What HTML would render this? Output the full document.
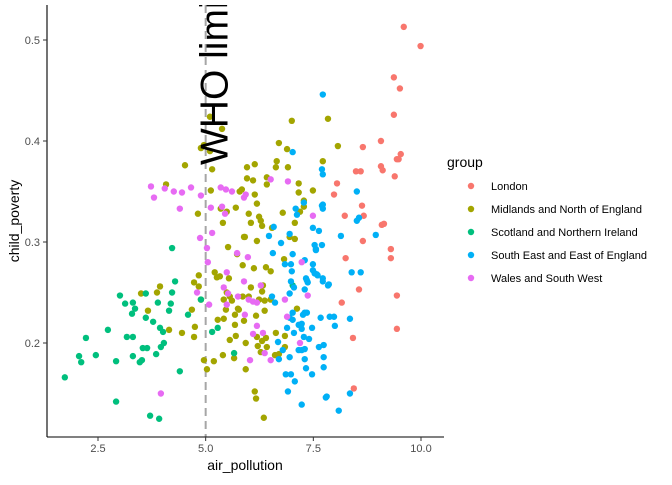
<!DOCTYPE html>
<html><head><meta charset="utf-8"><style>
html,body{margin:0;padding:0;background:#fff;}
svg text{font-family:"Liberation Sans",sans-serif;}
</style></head><body>
<svg id="chart" width="672" height="480" viewBox="0 0 672 480" xmlns="http://www.w3.org/2000/svg">
<defs><clipPath id="panelClip"><rect x="47" y="5" width="397" height="432"/></clipPath></defs>
<g id="points" clip-path="url(#panelClip)"></g>
<g id="axes"></g>
<g id="legend"></g>
</svg>
<script>
const xTicks = [2.5, 5.0, 7.5, 10.0];
const xTickLabels = ["2.5", "5.0", "7.5", "10.0"];
const yTicks = [0.2, 0.3, 0.4, 0.5];
const yTickLabels = ["0.2", "0.3", "0.4", "0.5"];
const groups = ["London", "Midlands and North of England", "Scotland and Northern Ireland", "South East and East of England", "Wales and South West"];
const groupColors = ["#F8766D", "#A3A500", "#00BF7D", "#00B0F6", "#E76BF3"];
const whoLimit = 5.0;

const londonX = [9.60,9.99,9.37,9.51,9.37,9.07,8.65,9.53,9.44,9.48,9.07,9.11,8.49,8.60,9.39,8.05,7.98,8.63,8.23,8.67,9.09,9.14,8.65,9.30,8.25,9.30,8.56,9.44,8.16,9.44,8.42,8.44];
const londonY = [0.513,0.494,0.463,0.452,0.426,0.400,0.394,0.387,0.382,0.382,0.375,0.371,0.370,0.370,0.365,0.358,0.347,0.336,0.326,0.326,0.317,0.318,0.301,0.293,0.284,0.284,0.253,0.247,0.240,0.214,0.205,0.155];

const midlandsX = [5.10,5.38,7.00,7.84,4.96,4.89,5.10,4.52,5.15,5.96,6.14,6.70,6.89,6.65,6.63,6.91,7.72,6.42,5.96,6.10,6.42,7.16,5.12,5.79,5.84,7.16,7.49,6.14,6.19,7.28,4.82,5.35,5.70,6.00,6.24,6.28,6.79,7.07,5.40,6.05,6.31,6.54,5.91,6.19,6.95,7.07,5.52,5.73,4.08,5.49,5.86,5.89,4.84,5.21,5.26,5.33,5.54,4.73,4.84,3.94,3.87,3.50,4.89,5.49,5.56,5.42,5.61,5.86,4.68,3.66,5.47,5.75,5.68,5.42,5.28,5.89,5.68,4.75,4.15,4.45,4.73,5.70,5.56,5.93,5.40,5.66,4.96,5.19,5.03,5.93,6.12,6.40,6.51,6.82,6.05,6.33,6.31,6.00,6.24,6.37,6.51,5.77,6.37,7.12,6.17,6.63,6.84,6.19,6.40,6.31,6.21,6.42,6.28,6.61,6.70,6.84,6.14,6.17,6.35,8.07,7.28,7.19];
const midlandsY = [0.424,0.412,0.420,0.422,0.396,0.393,0.390,0.376,0.372,0.374,0.377,0.398,0.392,0.380,0.374,0.374,0.380,0.364,0.363,0.361,0.357,0.358,0.351,0.350,0.352,0.349,0.351,0.347,0.338,0.335,0.328,0.333,0.334,0.328,0.325,0.321,0.329,0.319,0.319,0.319,0.316,0.314,0.305,0.301,0.305,0.303,0.295,0.288,0.357,0.330,0.277,0.305,0.267,0.270,0.265,0.266,0.264,0.260,0.256,0.256,0.250,0.249,0.243,0.250,0.246,0.243,0.242,0.246,0.233,0.232,0.233,0.234,0.228,0.224,0.223,0.222,0.218,0.216,0.213,0.210,0.206,0.207,0.203,0.200,0.188,0.185,0.183,0.182,0.174,0.174,0.274,0.275,0.271,0.283,0.255,0.257,0.251,0.246,0.243,0.242,0.243,0.233,0.232,0.234,0.227,0.210,0.207,0.206,0.205,0.202,0.197,0.196,0.191,0.188,0.189,0.196,0.152,0.145,0.126,0.395,0.341,0.330];

const scotlandX = [4.22,4.29,4.22,3.61,3.01,3.13,3.31,3.36,3.29,3.89,4.19,4.15,3.61,3.78,3.94,4.01,4.59,2.73,2.22,3.17,3.31,4.03,3.96,3.54,3.64,3.85,3.31,2.45,2.06,2.11,2.92,3.52,3.47,4.40,1.73,2.92,3.71,3.92,4.89,5.15,5.28,5.66,7.02];
const scotlandY = [0.294,0.261,0.250,0.249,0.247,0.239,0.240,0.234,0.229,0.240,0.239,0.232,0.225,0.221,0.215,0.211,0.228,0.213,0.205,0.206,0.206,0.200,0.196,0.195,0.195,0.189,0.187,0.188,0.187,0.181,0.182,0.183,0.181,0.172,0.166,0.142,0.128,0.125,0.243,0.211,0.215,0.190,0.257];

const southEastX = [7.72,7.70,7.72,8.51,7.28,7.72,7.72,8.51,8.56,7.49,7.63,8.14,8.95,7.53,7.70,7.56,7.30,7.49,7.49,7.53,7.60,7.72,7.72,7.86,8.39,8.60,7.33,7.37,7.30,7.30,7.35,7.67,7.88,7.98,8.35,8.00,7.47,7.23,7.23,7.28,7.40,7.74,7.63,7.30,7.23,7.74,7.30,7.33,7.74,7.47,7.79,8.35,8.09,7.23,6.56,7.02,6.84,6.98,7.00,7.56,7.58,7.84,6.98,7.05,7.35,6.95,6.54,6.61,7.02,6.95,7.02,7.26,7.16,6.89,7.05,6.68,6.79,6.95,6.70,7.16,6.86,6.98,7.07,6.91,7.81,7.02,7.09,7.12,7.70,6.47,6.58,6.75,6.95];
const southEastY = [0.446,0.372,0.367,0.350,0.339,0.337,0.333,0.321,0.324,0.314,0.311,0.306,0.307,0.297,0.297,0.293,0.282,0.278,0.272,0.269,0.267,0.264,0.261,0.258,0.270,0.270,0.264,0.260,0.253,0.230,0.230,0.225,0.226,0.226,0.224,0.217,0.215,0.214,0.219,0.206,0.204,0.198,0.196,0.194,0.193,0.186,0.184,0.175,0.176,0.169,0.146,0.150,0.133,0.139,0.289,0.288,0.278,0.278,0.271,0.292,0.268,0.257,0.261,0.255,0.262,0.249,0.246,0.240,0.230,0.225,0.223,0.228,0.218,0.215,0.210,0.201,0.193,0.186,0.184,0.193,0.169,0.169,0.162,0.152,0.147,0.389,0.333,0.327,0.336,0.306,0.315,0.299,0.308];

const walesX = [3.73,4.05,3.80,4.26,4.45,4.66,4.89,4.40,5.12,5.35,5.47,5.61,5.89,5.93,5.38,5.45,5.15,4.87,5.03,5.05,5.49,5.89,5.42,4.80,5.75,5.49,5.08,5.91,3.96,6.51,6.91,7.49,5.73,5.98,6.28,5.52,6.00,6.10,6.19,7.23,7.37,6.84,6.19,6.10,6.33,6.89,7.19,6.37,6.03,6.51];
const walesY = [0.355,0.353,0.344,0.350,0.349,0.354,0.346,0.333,0.334,0.354,0.352,0.350,0.344,0.347,0.335,0.328,0.309,0.304,0.294,0.280,0.270,0.261,0.255,0.250,0.246,0.238,0.238,0.228,0.150,0.362,0.360,0.326,0.289,0.285,0.257,0.249,0.243,0.241,0.240,0.280,0.247,0.243,0.217,0.209,0.210,0.226,0.200,0.190,0.183,0.183];

const seriesX = [londonX, midlandsX, scotlandX, southEastX, walesX];
const seriesY = [londonY, midlandsY, scotlandY, southEastY, walesY];

const NS = "http://www.w3.org/2000/svg";
const panel = {left:47, right:444, top:5, bottom:437};
function xScale(v){ return 98 + (v - 2.5) * (421 - 98) / 7.5; }
function yScale(v){ return 343 - (v - 0.2) * (343 - 40) / 0.3; }
function mk(tag, attrs, parent){ const e = document.createElementNS(NS, tag); for (const k in attrs) e.setAttribute(k, attrs[k]); parent.appendChild(e); return e; }

const pts = document.getElementById('points');
const axes = document.getElementById('axes');
const legend = document.getElementById('legend');

// WHO line
const wl = mk('line', {x1:xScale(whoLimit), x2:xScale(whoLimit), y1:panel.top, y2:panel.bottom, stroke:'#a6a6a6', 'stroke-width':2, 'stroke-dasharray':'8,5'}, pts);



for (let g = 0; g < groups.length; g++) {
  const xs = seriesX[g], ys = seriesY[g];
  for (let i = 0; i < xs.length; i++) {
    const c = mk('circle', {cx:xScale(xs[i]), cy:yScale(ys[i]), r:3.2, fill:groupColors[g]}, pts);
    
    
  }
}

// WHO label
const wx = xScale(whoLimit) + 22, wy = 165;
const wt = mk('text', {x:wx, y:wy, transform:'rotate(-90 ' + wx + ' ' + wy + ')', 'font-size':39, fill:'#000'}, pts);
wt.textContent = 'WHO limit';



// axes lines
const ay = mk('line', {x1:panel.left, x2:panel.left, y1:panel.top, y2:panel.bottom, stroke:'#000', 'stroke-width':1.1}, axes);


const ax = mk('line', {x1:panel.left, x2:panel.right, y1:panel.bottom, y2:panel.bottom, stroke:'#000', 'stroke-width':1.1}, axes);



for (let i = 0; i < xTicks.length; i++) {
  const x = xScale(xTicks[i]);
  const t = mk('line', {x1:x, x2:x, y1:panel.bottom, y2:panel.bottom + 4, stroke:'#333', 'stroke-width':1}, axes);
  
  
  const l = mk('text', {x:x, y:452, 'font-size':11, fill:'#4d4d4d', 'text-anchor':'middle'}, axes);
  l.textContent = xTickLabels[i];
  
  
}
for (let i = 0; i < yTicks.length; i++) {
  const y = yScale(yTicks[i]);
  const t = mk('line', {x1:panel.left - 4, x2:panel.left, y1:y, y2:y, stroke:'#333', 'stroke-width':1}, axes);
  
  
  const l = mk('text', {x:40, y:y + 4, 'font-size':11, fill:'#4d4d4d', 'text-anchor':'end'}, axes);
  l.textContent = yTickLabels[i];
  
  
}
const xt = mk('text', {x:245, y:470, 'font-size':14, fill:'#000', 'text-anchor':'middle'}, axes);
xt.textContent = 'air_pollution';


const yt = mk('text', {x:19, y:221, 'font-size':14, fill:'#000', 'text-anchor':'middle', transform:'rotate(-90 19 221)'}, axes);
yt.textContent = 'child_poverty';



// legend
const lt = mk('text', {x:447, y:167, 'font-size':14, fill:'#000'}, legend);
lt.textContent = 'group';


for (let g = 0; g < groups.length; g++) {
  const y = 186 + g * 23;
  const e = mk('g', {}, legend);
  
  
  const c = mk('circle', {cx:471, cy:y, r:3.2, fill:groupColors[g]}, e);
  
  
  const t = mk('text', {x:491, y:y + 4, 'font-size':11, fill:'#000'}, e);
  t.textContent = groups[g];
  
  
}
</script>
</body></html>
